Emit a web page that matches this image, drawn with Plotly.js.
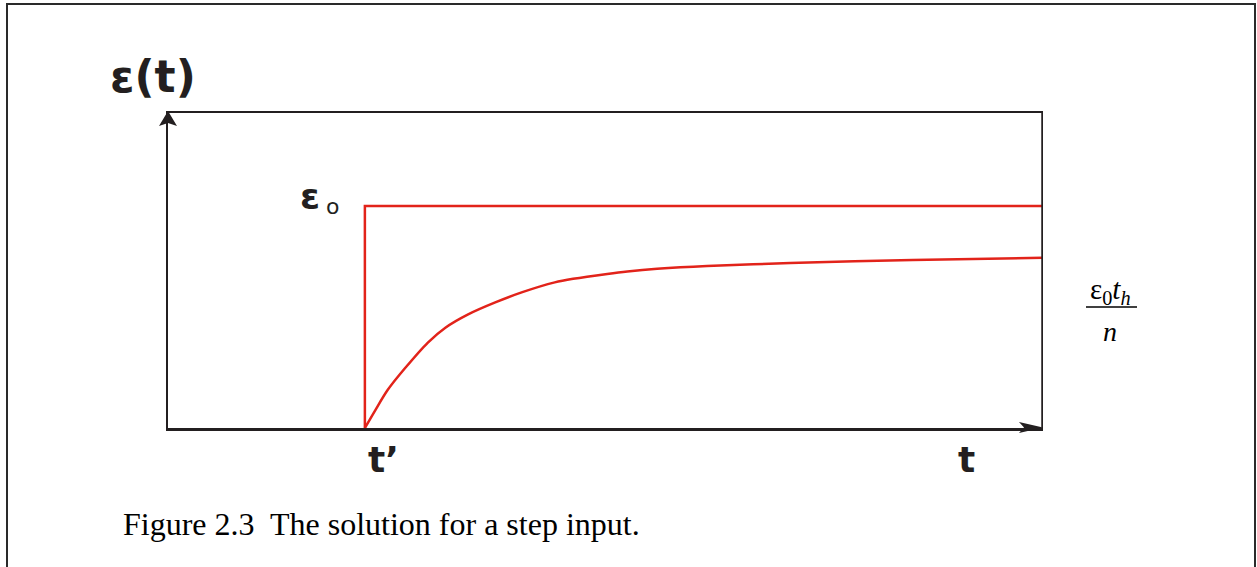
<!DOCTYPE html>
<html>
<head>
<meta charset="utf-8">
<script src="https://cdn.plot.ly/plotly-3.0.1.min.js"></script>
<style>
  html, body { margin: 0; padding: 0; background: #ffffff; }
  #chart { width: 1257px; height: 567px; }
</style>
</head>
<body>
<div id="chart"></div>
<script>
// Step input applied at t' : strain jumps to ε0, creep response rises toward ε0·t_h/n
const tPrime = 2.25;
const tEnd = 10;
const eps0 = 1;

const stepT = [tPrime, tPrime, tEnd];
const stepEps = [0, eps0, eps0];

const respT = [2.25, 2.37, 2.51, 2.71, 2.97, 3.17, 3.43, 3.74, 4.05, 4.42, 4.63, 5.02, 5.25, 5.59, 6.16, 7.11, 8.51, 10.0];
const respEps = [0, 0.081, 0.171, 0.270, 0.385, 0.452, 0.512, 0.566, 0.612, 0.656, 0.672, 0.694, 0.705, 0.717, 0.730, 0.743, 0.757, 0.767];

const yAxisLabel = 'ε(t)';
const xAxisLabel = 't';
const stepTimeLabel = 't\u2019';
const eps0Symbol = 'ε';
const eps0Sub = 'o';
const limitNumerator = 'ε<sub>0</sub><i>t</i><sub><i>h</i></sub>';
const limitDenominator = '<i>n</i>';
const caption = 'Figure 2.3  The solution for a step input.';

const W = 1257, H = 567;
const ink = '#231f20';
const red = '#e2231a';

// pixel helpers -> paper fractions
const px = v => v / W;
const py = v => 1 - v / H;

const plotL = 168, plotR = 1043, plotT = 113, plotB = 428;
const yTop = 1.419;

function pathPx(pts) {
  return 'M' + pts.map(p => px(p[0]).toFixed(5) + ',' + py(p[1]).toFixed(5)).join('L') + 'Z';
}

const traces = [
  {
    x: stepT, y: stepEps, mode: 'lines', type: 'scatter',
    line: { color: red, width: 2.5 }, cliponaxis: false, hoverinfo: 'skip'
  },
  {
    x: respT, y: respEps, mode: 'lines', type: 'scatter',
    line: { color: red, width: 2.5, shape: 'spline', smoothing: 0.8 }, cliponaxis: false, hoverinfo: 'skip'
  }
];

const layout = {
  width: W, height: H,
  margin: { l: 0, r: 0, t: 0, b: 0 },
  paper_bgcolor: '#ffffff',
  plot_bgcolor: '#ffffff',
  showlegend: false,
  xaxis: {
    domain: [px(plotL), px(plotR)], range: [0, tEnd],
    showgrid: false, zeroline: false, showticklabels: false, ticks: '',
    showline: true, linecolor: ink, linewidth: 2.5, mirror: true, fixedrange: true
  },
  yaxis: {
    domain: [py(plotB), py(plotT)], range: [0, yTop],
    showgrid: false, zeroline: false, showticklabels: false, ticks: '',
    showline: true, linecolor: ink, linewidth: 2.5, fixedrange: true
  },
  shapes: [
    // outer frame
    { type: 'rect', xref: 'paper', yref: 'paper', x0: px(7), x1: px(1255), y0: py(600), y1: py(4),
      line: { color: '#2a2a2a', width: 2 }, fillcolor: 'rgba(0,0,0,0)' },
    // right edge of the plot frame
    { type: 'line', xref: 'x', yref: 'y', x0: tEnd, x1: tEnd, y0: 0, y1: yTop,
      line: { color: ink, width: 3.5 } },
    // arrowhead on the strain axis
    { type: 'path', xref: 'paper', yref: 'paper', fillcolor: ink, line: { width: 0 },
      path: pathPx([[168, 111], [177, 126], [168, 123], [159, 126]]) },
    // arrowhead on the time axis
    { type: 'path', xref: 'paper', yref: 'paper', fillcolor: ink, line: { width: 0 },
      path: pathPx([[1043, 427.5], [1019, 433], [1024, 427.5], [1019, 422]]) },
    // fraction bar
    { type: 'line', xref: 'paper', yref: 'paper', x0: px(1086), x1: px(1137), y0: py(307), y1: py(307),
      line: { color: '#000000', width: 1.5 } }
  ],
  annotations: [
    { text: yAxisLabel, xref: 'paper', yref: 'paper', x: px(153), y: py(76), xanchor: 'center', yanchor: 'middle',
      showarrow: false, font: { family: 'DejaVu Sans', size: 44, color: ink, weight: 'bold' } },
    { text: eps0Symbol, xref: 'paper', yref: 'paper', x: px(310), y: py(196), xanchor: 'center', yanchor: 'middle',
      showarrow: false, font: { family: 'DejaVu Sans', size: 36, color: ink, weight: 'bold' } },
    { text: eps0Sub, xref: 'paper', yref: 'paper', x: px(332), y: py(206), xanchor: 'center', yanchor: 'middle',
      showarrow: false, font: { family: 'DejaVu Sans', size: 22, color: ink } },
    { text: stepTimeLabel, xref: 'paper', yref: 'paper', x: px(383), y: py(459), xanchor: 'center', yanchor: 'middle',
      showarrow: false, font: { family: 'DejaVu Sans', size: 36, color: ink, weight: 'bold' } },
    { text: xAxisLabel, xref: 'paper', yref: 'paper', x: px(966), y: py(459), xanchor: 'center', yanchor: 'middle',
      showarrow: false, font: { family: 'DejaVu Sans', size: 36, color: ink, weight: 'bold' } },
    { text: limitNumerator, xref: 'paper', yref: 'paper', x: px(1110), y: py(291), xanchor: 'center', yanchor: 'middle',
      showarrow: false, font: { family: 'Liberation Serif', size: 29, color: '#000000' } },
    { text: limitDenominator, xref: 'paper', yref: 'paper', x: px(1110), y: py(331), xanchor: 'center', yanchor: 'middle',
      showarrow: false, font: { family: 'Liberation Serif', size: 28, color: '#000000' } },
    { text: caption, xref: 'paper', yref: 'paper', x: px(121), y: py(524), xanchor: 'left', yanchor: 'middle',
      showarrow: false, font: { family: 'Liberation Serif', size: 32, color: '#000000' } }
  ]
};

Plotly.newPlot('chart', traces, layout, { staticPlot: true, displayModeBar: false });
</script>
</body>
</html>
